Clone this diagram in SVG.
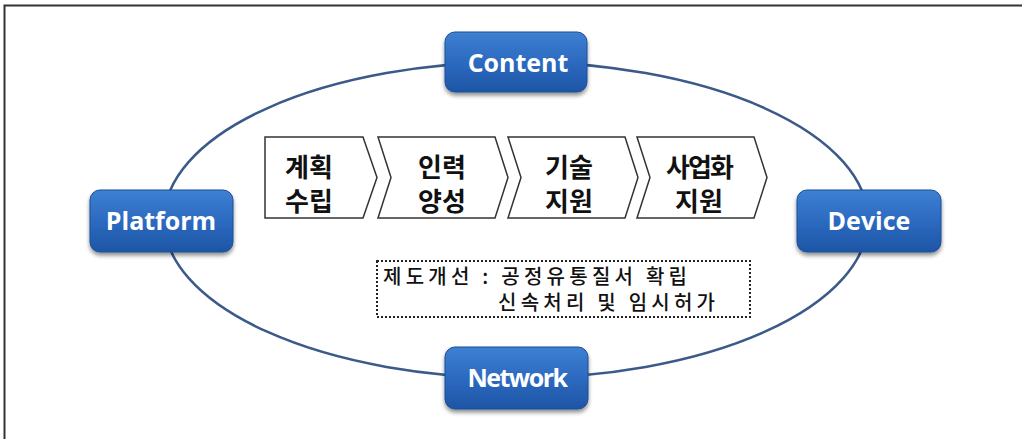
<svg xmlns="http://www.w3.org/2000/svg" width="1022" height="439" viewBox="0 0 1022 439">
<defs>
<linearGradient id="bg" x1="0" y1="0" x2="0" y2="1">
<stop offset="0" stop-color="#3d80d2"/>
<stop offset="0.5" stop-color="#2c6ac0"/>
<stop offset="1" stop-color="#1e55a5"/>
</linearGradient>
<filter id="sh" x="-10%" y="-10%" width="120%" height="135%">
<feGaussianBlur in="SourceAlpha" stdDeviation="2"/>
<feOffset dx="0" dy="3" result="b"/>
<feComponentTransfer><feFuncA type="linear" slope="0.45"/></feComponentTransfer>
<feMerge><feMergeNode/><feMergeNode in="SourceGraphic"/></feMerge>
</filter>
</defs>
<style>
.box{fill:url(#bg);stroke:#1d4e96;stroke-width:1;filter:url(#sh)}
.bl{font-family:"Open Sans","Liberation Sans",sans-serif;font-weight:bold;font-size:25px;fill:#ffffff;text-anchor:middle}
.chev{fill:#ffffff;stroke:#333333;stroke-width:1.5;stroke-linejoin:miter}
.ct{font-family:"Noto Sans CJK KR",sans-serif;font-weight:bold;font-size:26px;fill:#111111;text-anchor:middle}
.nt{font-family:"Noto Sans CJK KR",sans-serif;font-weight:500;font-size:20px;fill:#111111}
</style>
<rect x="0" y="0" width="1022" height="439" fill="#ffffff"/>
<path d="M4.5 439 V5.5 H1022" fill="none" stroke="#333333" stroke-width="2"/>
<g id="connectors">
<ellipse cx="516" cy="220" rx="352" ry="158" fill="none" stroke="#3b5a8a" stroke-width="2.5"/>
</g>
<g id="content"><rect class="box" x="445" y="32" width="142" height="60" rx="10"/><text class="bl" x="518" y="72">Content</text></g>
<g id="platform"><rect class="box" x="90" y="190" width="143" height="62" rx="10"/><text class="bl" x="161" y="230">Platform</text></g>
<g id="device"><rect class="box" x="797" y="190" width="144" height="62" rx="10"/><text class="bl" x="869" y="230">Device</text></g>
<g id="network"><rect class="box" x="445" y="347" width="143" height="62" rx="10"/><text class="bl" x="517" y="387" letter-spacing="-1.5">Network</text></g>
<g id="step1"><polygon class="chev" points="265,137 363,137 377,177.5 363,218 265,218"/><text class="ct" x="309" y="177">계획</text><text class="ct" x="309" y="211">수립</text></g>
<g id="step2"><polygon class="chev" points="378,137 495,137 508,177.5 495,218 378,218 391,177.5"/><text class="ct" x="442" y="177">인력</text><text class="ct" x="442" y="211">양성</text></g>
<g id="step3"><polygon class="chev" points="508,137 625,137 638,177.5 625,218 508,218 521,177.5"/><text class="ct" x="569" y="177">기술</text><text class="ct" x="569" y="211">지원</text></g>
<g id="step4"><polygon class="chev" points="637,137 754,137 767,177.5 754,218 637,218 650,177.5"/><text class="ct" x="699" y="177" letter-spacing="-2">사업화</text><text class="ct" x="699" y="211">지원</text></g>
<g id="note">
<rect x="377" y="261" width="373" height="56" fill="#ffffff" stroke="#222222" stroke-width="2" stroke-dasharray="2,2"/>
<text class="nt" x="383" y="284" textLength="304" lengthAdjust="spacing">제도개선 : 공정유통질서 확립</text>
<text class="nt" x="498" y="310" textLength="217" lengthAdjust="spacing">신속처리 및 임시허가</text>
</g>
</svg>
